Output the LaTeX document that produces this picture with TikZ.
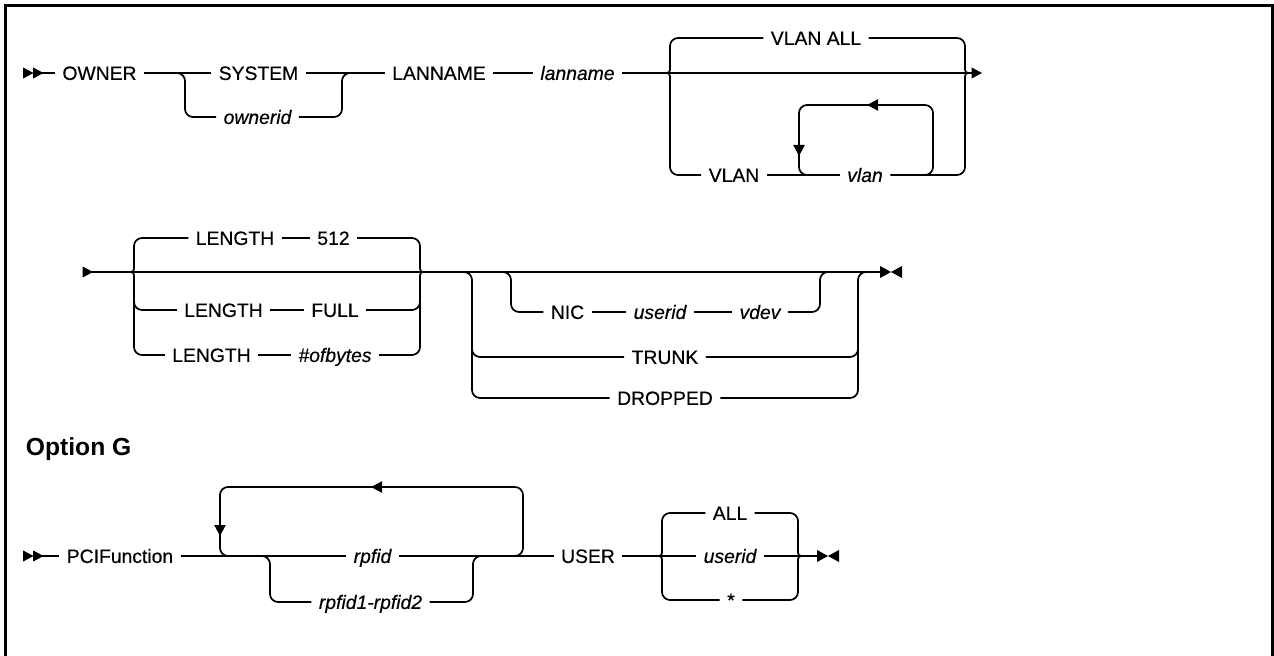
\documentclass[tikz,border=0pt]{standalone}
\usepackage{fontspec}
\setmainfont{Liberation Sans}[UprightFeatures={FakeBold=0.4},ItalicFeatures={FakeBold=0.4}]
\begin{document}
\begin{tikzpicture}[x=0.75pt,y=-0.75pt,
  line width=1.3pt,
  every node/.style={font=\fontsize{14.5}{17}\selectfont, inner xsep=5pt, inner ysep=0pt, text height=10.4pt, text depth=0pt},
  it/.style={font=\fontsize{14.5}{17}\selectfont\itshape},
  rc/.style={rounded corners=6pt},
  tipr/.pic={\fill (0,0) -- (-10.5,-5.6) -- (-10.5,5.6) -- cycle;},
  tipl/.pic={\fill (0,0) -- (11,-5.8) -- (11,5.8) -- cycle;},
  tipd/.pic={\fill (0,0) -- (-5.8,-11) -- (5.8,-11) -- cycle;},
  endr/.pic={\fill (0,0) -- (-11,-6) -- (-11,6) -- cycle;},
  endl/.pic={\fill (0,0) -- (11,-6) -- (11,6) -- cycle;},
]
\useasboundingbox (0,0) rectangle (1274,656);
\draw[line width=2.2pt] (5.5,660) -- (5.5,5.5) -- (1272.5,5.5) -- (1272.5,660);

% ---------- Row 1 ----------
\node (owner) at (99.5,73) {OWNER};
\node (system) at (258.5,73) {SYSTEM};
\node[it] (ownerid) at (257.5,117) {ownerid};
\node (lannamekw) at (439,73) {LANNAME};
\node[it] (lannamev) at (577.5,73) {lanname};
\node (vlanall) at (816,38) {VLAN ALL};
\node (vlankw) at (734,175) {VLAN};
\node[it] (vlanv) at (865,175) {vlan};

\pic at (33.5,73) {tipr};
\pic at (43.5,73) {tipr};
\draw (42,73) -- (owner.west);
\draw (owner.east) -- (system.west);
\draw[rc] (176,73) -- (185,73) -- (185,117) -- (ownerid.west);
\draw (system.east) -- (lannamekw.west);
\draw[rc] (ownerid.east) -- (342,117) -- (342,73) -- (351,73);
\draw (lannamekw.east) -- (lannamev.west);
\draw (lannamev.east) -- (972,73);
\pic at (982,73) {tipr};
\draw (663,73) .. controls (670,73) .. (670,66);
\draw[rc] (670,66) -- (670,38) -- (vlanall.west);
\draw (663,73) .. controls (670,73) .. (670,80);
\draw[rc] (670,80) -- (670,175) -- (vlankw.west);
\draw[rc] (vlanall.east) -- (965,38) -- (965,66);
\draw (965,66) .. controls (965,73) .. (972,73);
\draw (vlankw.east) -- (vlanv.west);
\draw[rc] (vlanv.east) -- (965,175) -- (965,80);
\draw (965,80) .. controls (965,73) .. (972,73);
\draw[rc] (915,175) -- (933,175) -- (933,105) -- (799,105) -- (799,175) -- (817,175);
\pic at (867,105) {tipl};
\pic at (799,156) {tipd};

% ---------- Row 2 ----------
\node (len1) at (235,238) {LENGTH};
\node (n512) at (333.5,238) {512};
\node (len2) at (223.5,310) {LENGTH};
\node (full) at (335,310) {FULL};
\node (len3) at (211.5,355) {LENGTH};
\node[it] (ofb) at (335,355) {\#ofbytes};
\node (nic) at (567.5,312) {NIC};
\node[it] (useridA) at (660,312) {userid};
\node[it] (vdev) at (760,312) {vdev};
\node (trunk) at (665,357) {TRUNK};
\node (dropped) at (665,398) {DROPPED};

\pic at (93,272) {tipr};
\draw (92,272) -- (880,272);
\draw (127,272) .. controls (134,272) .. (134,265);
\draw[rc] (134,265) -- (134,238) -- (len1.west);
\draw (len1.east) -- (n512.west);
\draw[rc] (n512.east) -- (420,238) -- (420,265);
\draw (420,265) .. controls (420,272) .. (427,272);
\draw (127,272) .. controls (134,272) .. (134,279);
\draw[rc] (134,279) -- (134,310) -- (len2.west);
\draw[rc] (134,300) -- (134,355) -- (len3.west);
\draw (len2.east) -- (full.west);
\draw[rc] (full.east) -- (420,310) -- (420,279);
\draw (len3.east) -- (ofb.west);
\draw[rc] (ofb.east) -- (420,355) -- (420,300);
\draw (420,279) .. controls (420,272) .. (427,272);

\draw[rc] (460,272) -- (472,272) -- (472,398) -- (dropped.west);
\draw[rc] (472,340) -- (472,357) -- (trunk.west);
\draw[rc] (dropped.east) -- (858,398) -- (858,272) -- (870,272);
\draw[rc] (trunk.east) -- (858,357) -- (858,340);
\draw[rc] (500,272) -- (511,272) -- (511,312) -- (nic.west);
\draw (nic.east) -- (useridA.west);
\draw (useridA.east) -- (vdev.west);
\draw[rc] (vdev.east) -- (820,312) -- (820,272) -- (832,272);
\pic at (891,272) {endr};
\pic at (891,272) {endl};

% ---------- Option G ----------
\node[font=\fontsize{18.5}{21}\selectfont\bfseries, anchor=west, inner xsep=0pt, text height=13.3pt] (optg) at (25,447) {Option G};

% ---------- Row 3 ----------
\node (pci) at (120,556) {PCIFunction};
\node[it] (rpfid) at (372.5,556) {rpfid};
\node[it] (rr) at (370.5,602) {rpfid1-rpfid2};
\node (user) at (588,556) {USER};
\node (all) at (730,513) {ALL};
\node[it] (useridB) at (730,556) {userid};
\node (star) at (731,600) {*};

\pic at (33.5,556) {tipr};
\pic at (43.5,556) {tipr};
\draw (42,556) -- (pci.west);
\draw (pci.east) -- (rpfid.west);
\draw (rpfid.east) -- (user.west);
\draw[rc] (240,556) -- (220,556) -- (220,487) -- (523,487) -- (523,556) -- (505,556);
\pic at (220,536) {tipd};
\pic at (371,487) {tipl};
\draw[rc] (258,556) -- (270,556) -- (270,602) -- (rr.west);
\draw[rc] (rr.east) -- (473,602) -- (473,556) -- (485,556);
\draw (user.east) -- (useridB.west);
\draw (useridB.east) -- (817,556);
\draw (655,556) .. controls (662,556) .. (662,549);
\draw[rc] (662,549) -- (662,513) -- (all.west);
\draw (655,556) .. controls (662,556) .. (662,563);
\draw[rc] (662,563) -- (662,600) -- (star.west);
\draw[rc] (all.east) -- (798,513) -- (798,549);
\draw (798,549) .. controls (798,556) .. (805,556);
\draw[rc] (star.east) -- (798,600) -- (798,563);
\draw (798,563) .. controls (798,556) .. (805,556);
\pic at (828,556) {endr};
\pic at (828,556) {endl};
\end{tikzpicture}
\end{document}
